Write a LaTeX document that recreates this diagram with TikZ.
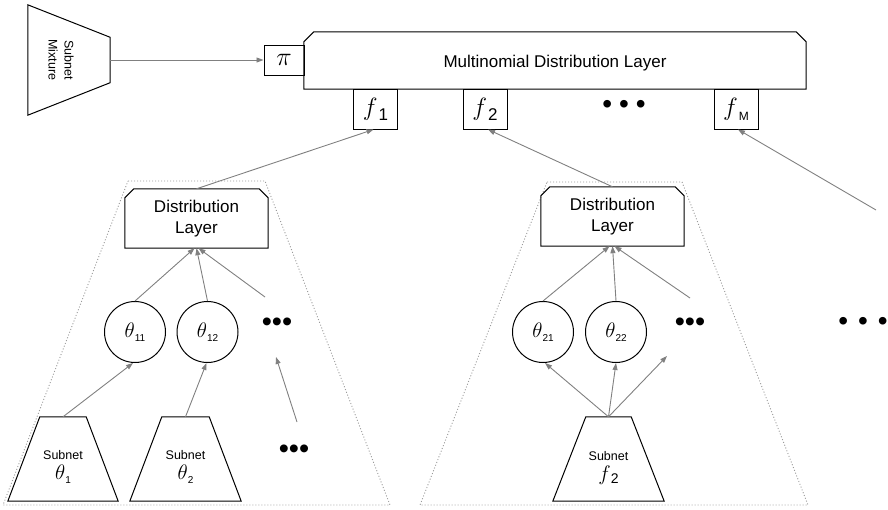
\RequirePackage{fix-cm}
\documentclass[tikz,border=0pt]{standalone}
\usepackage{fontspec}
\setmainfont{Liberation Sans}
\setsansfont{Liberation Sans}
\usetikzlibrary{arrows.meta,calc}
\newcommand\fsz[1]{\fontsize{#1}{#1}\selectfont}
\definecolor{arrgray}{HTML}{808080}
\definecolor{dotgray}{HTML}{9A9A9A}
\begin{document}
\begin{tikzpicture}[x=1pt,y=-1pt,
  outline/.style={draw=black,line width=1pt},
  box/.style={outline,inner sep=0pt},
  hidden/.style={inner sep=0pt,draw=none},
  arr/.style={draw=arrgray,line width=0.9pt,-{Triangle[length=7pt,width=5pt]}},
  group/.style={draw=dotgray,line width=0.9pt,dash pattern=on 1pt off 2pt},
  txt/.style={inner sep=0pt,align=center},
  dots/.style={inner sep=0pt,font=\fsz{28}}]
\useasboundingbox (0,0) rectangle (888,509);

% dotted groups
\draw[group] (128,181) -- (265,181) -- (390,505) -- (3,505) -- cycle;
\draw[group] (547,182) -- (682,182) -- (808,505) -- (420,505) -- cycle;

% subnet mixture
\node[hidden,minimum width=82pt,minimum height=110pt] (mix) at (69,60) {};
\draw[outline] (mix.north west) -- (mix.south west) -- ([yshift=32.5pt]mix.south east) -- ([yshift=-32.5pt]mix.north east) -- cycle;
\node[txt,rotate=-90,font=\fontsize{12.5}{16}\selectfont] (mixt) at (61,60) {Subnet\\Mixture};

% pi box
\node[box,minimum width=40pt,minimum height=30pt] (pi) at (284,60) {\fsz{26}$\pi$};

% multinomial layer
\node[hidden,minimum width=502pt,minimum height=57pt] (mult) at (555,60.5) {};
\draw[outline] (mult.south west) -- (mult.south east) -- ([yshift=-10pt]mult.north east) -- ([xshift=-10pt]mult.north east) -- ([xshift=10pt]mult.north west) -- ([yshift=-10pt]mult.north west) -- cycle;
\node[txt,font=\fsz{17}] (multt) at (555,63) {Multinomial Distribution Layer};

% f boxes
\node[box,minimum width=44pt,minimum height=40pt] (f1) at (375.5,109) {\fsz{25}$f$\kern1pt\raisebox{-5pt}{\fsz{17}1}};
\node[box,minimum width=44pt,minimum height=40pt] (f2) at (485,109) {\fsz{25}$f$\kern1pt\raisebox{-5pt}{\fsz{17}2}};
\node[box,minimum width=44pt,minimum height=40pt] (fM) at (736,109) {\fsz{25}$f$\kern1pt\raisebox{-5pt}{\fsz{12}M}};
\node[dots] (dtop) at (624,107) {•\hspace{7pt}•\hspace{7pt}•};

% distribution layers
\node[hidden,minimum width=143pt,minimum height=59pt] (dl1) at (196.5,218.5) {};
\draw[outline] (dl1.south west) -- (dl1.south east) -- ([yshift=-9pt]dl1.north east) -- ([xshift=-9pt]dl1.north east) -- ([xshift=9pt]dl1.north west) -- ([yshift=-9pt]dl1.north west) -- cycle;
\node[txt,font=\fontsize{17}{21}\selectfont] (dl1t) at (196.5,219) {Distribution\\Layer};
\node[hidden,minimum width=143pt,minimum height=59pt] (dl2) at (612.5,216.5) {};
\draw[outline] (dl2.south west) -- (dl2.south east) -- ([yshift=-9pt]dl2.north east) -- ([xshift=-9pt]dl2.north east) -- ([xshift=9pt]dl2.north west) -- ([yshift=-9pt]dl2.north west) -- cycle;
\node[txt,font=\fontsize{17}{21}\selectfont] (dl2t) at (612.5,217) {Distribution\\Layer};

% theta circles
\foreach \n/\x/\s in {t11/135/11,t12/207.5/12,t21/543/21,t22/616/22}{
  \node[outline,circle,minimum size=61pt,inner sep=0pt] (\n) at (\x,332) {\fsz{21}$\theta$\raisebox{-4pt}{\fsz{10}\s}};
}

% dots
\node[dots,font=\fsz{29}] (d1) at (277,325) {•\kern0pt•\kern0pt•};
\node[dots,font=\fsz{29}] (d2) at (294,452) {•\kern0pt•\kern0pt•};
\node[dots,font=\fsz{29}] (d3) at (690,325) {•\kern0pt•\kern0pt•};
\node[dots] (d4) at (863,324) {•\hspace{10pt}•\hspace{10pt}•};

% subnets
\node[hidden,minimum width=110pt,minimum height=84pt] (s1) at (63,459) {};
\draw[outline] (s1.south west) -- (s1.south east) -- ([xshift=-32pt]s1.north east) -- ([xshift=32pt]s1.north west) -- cycle;
\node[txt,font=\fsz{12.5}] (s1t) at (63,467) {Subnet\\[5pt]\fsz{21}$\theta$\raisebox{-4pt}{\fsz{10}1}};
\node[hidden,minimum width=111pt,minimum height=84pt] (s2) at (185.5,459) {};
\draw[outline] (s2.south west) -- (s2.south east) -- ([xshift=-32pt]s2.north east) -- ([xshift=32pt]s2.north west) -- cycle;
\node[txt,font=\fsz{12.5}] (s2t) at (185.5,467) {Subnet\\[5pt]\fsz{21}$\theta$\raisebox{-4pt}{\fsz{10}2}};
\node[hidden,minimum width=111pt,minimum height=84pt] (sf) at (608.5,459) {};
\draw[outline] (sf.south west) -- (sf.south east) -- ([xshift=-33pt]sf.north east) -- ([xshift=33pt]sf.north west) -- cycle;
\node[txt,font=\fsz{12.5}] (sft) at (608.5,468) {Subnet\\[5pt]\fsz{21}$f$\raisebox{-3pt}{\fsz{14}2}};

% free ends
\coordinate (cM) at (876,210);
\coordinate (c1) at (265,297);
\coordinate (c2) at (297,422);
\coordinate (c3) at (276,357);
\coordinate (c4) at (667,356);
\coordinate (c5) at (690,298);

% connectors
\draw[arr] (mix.east) -- (pi.west);
\draw[arr] (dl1.north) -- ([xshift=-2pt]f1.south);
\draw[arr] (dl2.north) -- ([xshift=3pt]f2.south);
\draw[arr] (cM) -- ([xshift=2pt]fM.south);

\draw[arr] (t11.north) -- ([xshift=-2pt]dl1.south);
\draw[arr] (t12.north) -- (dl1.south);
\draw[arr] (c1) -- ([xshift=2pt]dl1.south);
\draw[arr] (s1.north) -- ([xshift=-2pt]t11.south);
\draw[arr] (s2.north) -- ([xshift=-1pt]t12.south);
\draw[arr] (c2) -- (c3);

\draw[arr] (t21.north) -- ([xshift=-3pt]dl2.south);
\draw[arr] (t22.north) -- (dl2.south);
\draw[arr] (c5) -- ([xshift=2pt]dl2.south);
\draw[arr] (sf.north) -- ([xshift=2pt]t21.south);
\draw[arr] (sf.north) -- (t22.south);
\draw[arr] (sf.north) -- (c4);
\end{tikzpicture}
\end{document}
